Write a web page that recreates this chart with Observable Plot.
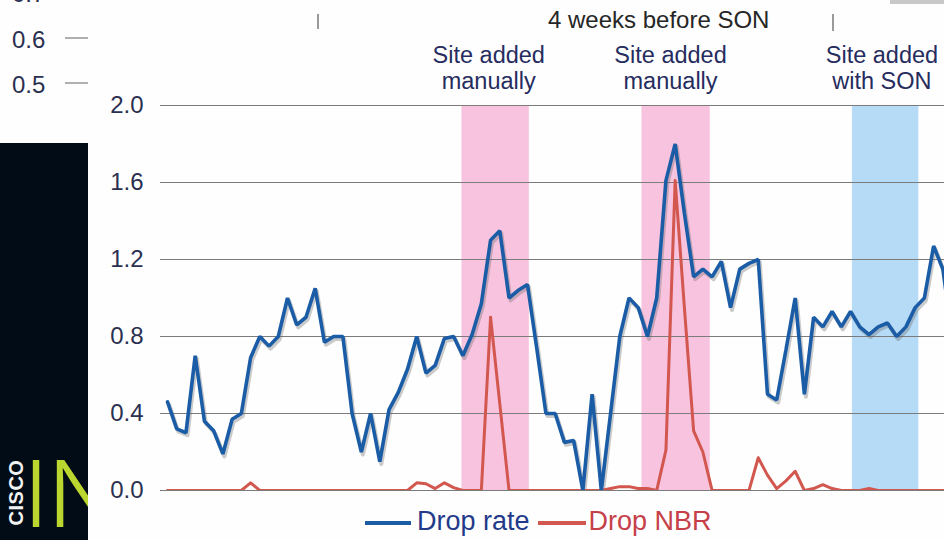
<!DOCTYPE html>
<html>
<head>
<meta charset="utf-8">
<script src="https://cdn.jsdelivr.net/npm/d3@7"></script>
<script src="https://cdn.jsdelivr.net/npm/@observablehq/plot@0.6"></script>
<style>
  html, body { margin: 0; padding: 0; background: #ffffff; }
  #wrap { position: relative; width: 944px; height: 540px; overflow: hidden; background: #fefefe;
          font-family: "Liberation Sans", Arial, Helvetica, sans-serif; }
  #chart { position: absolute; left: 0; top: 0; }
  .abs { position: absolute; white-space: nowrap; }
  #panel { position: absolute; left: 0; top: 143px; width: 88px; height: 397px; background: #020c17; overflow: hidden; }
</style>
</head>
<body>
<div id="wrap">
  <div id="chart"></div>
</div>
<script>
// ---- data ----
const dropRate = [
  0.46,0.32,0.30,0.70,0.36,0.31,0.19,0.37,0.40,0.69,
  0.80,0.75,0.80,1.00,0.86,0.90,1.05,0.77,0.80,0.80,
  0.40,0.20,0.40,0.15,0.42,0.51,0.63,0.80,0.61,0.65,
  0.79,0.80,0.70,0.81,0.97,1.30,1.35,1.00,1.04,1.07,
  0.74,0.40,0.40,0.25,0.26,0.00,0.50,0.00,0.40,0.80,
  1.00,0.95,0.80,1.00,1.61,1.80,1.44,1.11,1.15,1.11,
  1.19,0.95,1.15,1.18,1.20,0.50,0.47,0.73,1.00,0.50,
  0.90,0.85,0.93,0.85,0.93,0.85,0.81,0.85,0.87,0.80,
  0.85,0.95,1.00,1.27,1.15,0.80
];
const dropNBR = [
  0,0,0,0,0,0,0,0,0,0.04,
  0,0,0,0,0,0,0,0,0,0,
  0,0,0,0,0,0,0,0.04,0.035,0.01,
  0.04,0.015,0,0,0,0.90,0.45,0,0,0,
  0,0,0,0,0,0,0,0,0.01,0.02,
  0.02,0.01,0.01,0,0.21,1.61,0.95,0.31,0.20,0,
  0,0,0,0,0.17,0.08,0.01,0.05,0.10,0,
  0.01,0.03,0.01,0,0,0,0.01,0,0,0,
  0,0,0,0,0,0
];
const yTicks = [0, 0.4, 0.8, 1.2, 1.6, 2.0];
const bandStart = [31.9, 51.4, 74.2];
const bandEnd   = [39.2, 58.8, 81.4];
const bandKind  = ["manual", "manual", "son"];
const annoLine1 = ["Site added", "Site added", "Site added"];
const annoLine2 = ["manually", "manually", "with SON"];
const annoAt    = [34.8, 54.5, 77.4];
const seriesNames = ["Drop rate", "Drop NBR"];

// ---- tables ----
const rows = dropRate.map((v, i) => ({i, rate: v, nbr: dropNBR[i]}));
const bands = bandStart.map((s, k) => ({x1: s, x2: bandEnd[k], kind: bandKind[k]}));
const annos = annoAt.map((x, k) => ({x, label: annoLine1[k] + "\n" + annoLine2[k]}));

const navy = "#262c5e";
const blue = "#1b5ca6";
const red = "#d2574f";

const chart = Plot.plot({
  width: 944,
  height: 540,
  marginTop: 105,
  marginBottom: 50,
  marginLeft: 160,
  marginRight: 0,
  style: {background: "transparent", fontFamily: "'Liberation Sans', Arial, sans-serif", overflow: "visible"},
  x: {domain: [-0.76, 84.18], axis: null},
  y: {domain: [0, 2], axis: null},
  color: {domain: ["manual", "son"], range: ["#f8c3de", "#b6dbf6"]},
  marks: [
    Plot.rect(bands, {x1: "x1", x2: "x2", y1: 0, y2: 2, fill: "kind"}),
    Plot.ruleY(yTicks, {stroke: "#7b7b7b", strokeWidth: 1.2}),
    Plot.axisY({ticks: yTicks, tickSize: 0, tickPadding: 17, fontSize: 24, fill: "#2b3050",
                tickFormat: d3.format(".1f"), label: null}),
    Plot.lineY(rows, {x: "i", y: "rate", stroke: "#6a6a6a", strokeOpacity: 0.35, strokeWidth: 4, dx: 1.5, dy: 2.5, clip: true}),
    Plot.lineY(rows, {x: "i", y: "nbr", stroke: red, strokeWidth: 3, clip: true}),
    Plot.lineY(rows, {x: "i", y: "rate", stroke: blue, strokeWidth: 3.6, strokeLinejoin: "miter", clip: true}),
    Plot.text(annos, {x: "x", y: () => 2, text: "label", dy: -37.5, fontSize: 23.5, lineHeight: 1.1, fill: navy})
  ]
});
document.getElementById("chart").appendChild(chart);

// ---- surrounding slide elements & legend ----
const wrap = document.getElementById("wrap");
function addDiv(html, style) {
  const d = document.createElement("div");
  d.className = "abs";
  d.innerHTML = html;
  Object.assign(d.style, style);
  wrap.appendChild(d);
  return d;
}
// faded axis of the slide behind
addDiv("0.7", {left: "12px", top: "-20px", fontSize: "24px", color: "#2b3050"});
addDiv("0.6", {left: "12px", top: "26px", fontSize: "24px", color: "#2b3050"});
addDiv("0.5", {left: "12px", top: "71px", fontSize: "24px", color: "#2b3050"});
addDiv("", {left: "65px", top: "37px", width: "23px", height: "2px", background: "#b0b0b0"});
addDiv("", {left: "65px", top: "82px", width: "23px", height: "2px", background: "#b0b0b0"});
addDiv("4 weeks before SON", {left: "548px", top: "6px", fontSize: "24px", color: "#262626"});
addDiv("", {left: "317px", top: "14px", width: "2px", height: "15px", background: "#9a9a9a"});
addDiv("", {left: "832px", top: "14px", width: "2px", height: "17px", background: "#9a9a9a"});
addDiv("", {left: "890px", top: "0px", width: "54px", height: "4px", background: "#c8c8c8"});

// dark Cisco panel
const panel = document.createElement("div");
panel.id = "panel";
panel.innerHTML =
  '<div class="abs" style="left:-16px;top:338px;transform:rotate(-90deg);font-size:20px;font-weight:bold;color:#f2f2f2;letter-spacing:0.5px">CISCO</div>' +
  '<div class="abs" style="left:24px;top:305px;width:64px;overflow:hidden;font-family:Inter,sans-serif;font-weight:300;font-size:92px;line-height:92px;color:#bcd630">IN</div>';
wrap.appendChild(panel);

// legend
addDiv(
  '<span style="display:inline-block;width:46px;height:4px;background:' + blue + ';vertical-align:middle;margin-right:6px"></span>' +
  '<span style="color:#233a8a">' + seriesNames[0] + '</span>' +
  '<span style="display:inline-block;width:48px;height:4px;background:' + red + ';vertical-align:middle;margin:0 3px 0 8px"></span>' +
  '<span style="color:#c6404a">' + seriesNames[1] + '</span>',
  {left: "365px", top: "506px", fontSize: "27px", lineHeight: "30px"});
</script>
</body>
</html>
